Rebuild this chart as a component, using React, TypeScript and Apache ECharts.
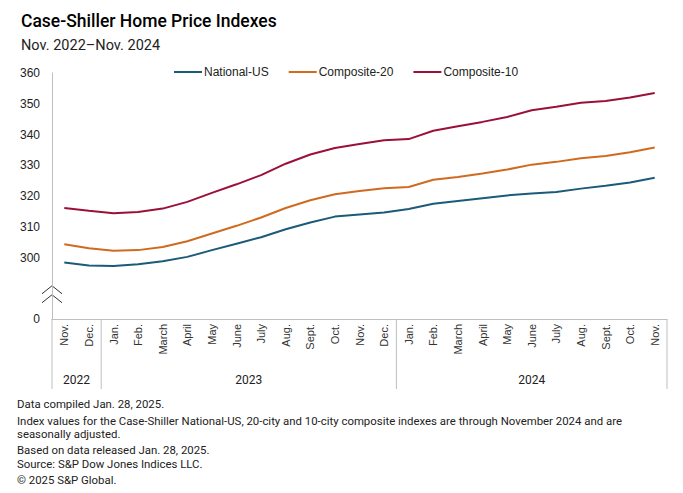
import React, { useEffect, useRef } from "react";
import * as echarts from "echarts";

const months = [
  "Nov.", "Dec.",
  "Jan.", "Feb.", "March", "April", "May", "June", "July", "Aug.", "Sept.", "Oct.", "Nov.", "Dec.",
  "Jan.", "Feb.", "March", "April", "May", "June", "July", "Aug.", "Sept.", "Oct.", "Nov.",
];
const years = ["2022", "2023", "2024"];
const yearStarts = [0, 2, 14];

const nationalUS = [
  298.4, 297.4, 297.2, 297.8, 298.8, 300.2, 302.4, 304.5, 306.6, 309.2, 311.4, 313.3, 314.0,
  314.6, 315.8, 317.5, 318.4, 319.3, 320.2, 320.8, 321.3, 322.4, 323.3, 324.4, 325.9,
];
const composite20 = [
  304.3, 303.0, 302.2, 302.4, 303.4, 305.3, 307.8, 310.3, 313.0, 316.1, 318.6, 320.6, 321.6,
  322.5, 322.9, 325.3, 326.2, 327.3, 328.6, 330.2, 331.1, 332.3, 333.0, 334.2, 335.8,
];
const composite10 = [
  316.1, 315.2, 314.4, 314.8, 315.9, 318.1, 321.0, 323.8, 326.8, 330.5, 333.5, 335.6, 336.9,
  338.1, 338.5, 341.2, 342.7, 344.1, 345.7, 347.9, 349.0, 350.3, 350.9, 352.0, 353.5,
];

const footnotes = [
  { text: "Data compiled Jan. 28, 2025.", y: 404 },
  {
    text: "Index values for the Case-Shiller National-US, 20-city and 10-city composite indexes are through November 2024 and are",
    y: 421,
  },
  { text: "seasonally adjusted.", y: 434 },
  { text: "Based on data released Jan. 28, 2025.", y: 450 },
  { text: "Source: S&P Dow Jones Indices LLC.", y: 464 },
  { text: "\u00a9 2025 S&P Global.", y: 480 },
];

const FONT = "Roboto, 'Liberation Sans', sans-serif";
const AXFONT = "'Liberation Sans', Arial, sans-serif";

export default function App() {
  const ref = useRef<HTMLDivElement>(null);
  useEffect(() => {
    if (!ref.current) return;
    const chart = echarts.init(ref.current, null, { renderer: "svg" });
    const mkSeries = (name: string, data: number[], color: string) => ({
      name,
      type: "line",
      data,
      symbol: "none",
      smooth: false,
      lineStyle: { color, width: 2 },
      itemStyle: { color },
    });
    chart.setOption({
      animation: false,
      backgroundColor: "#ffffff",
      title: [
        {
          text: "Case-Shiller Home Price Indexes",
          left: 16,
          top: 7,
          textStyle: { fontFamily: FONT, fontSize: 17.5, fontWeight: 500, color: "#000" },
        },
        {
          text: "Nov. 2022\u2013Nov. 2024",
          left: 16,
          top: 33,
          textStyle: { fontFamily: FONT, fontSize: 14.5, fontWeight: 400, color: "#222" },
        },
      ],
      legend: {
        left: 169,
        top: 61,
        itemGap: 20,
        itemWidth: 28,
        itemHeight: 2,
        icon: "rect",
        textStyle: { fontFamily: AXFONT, fontSize: 12, color: "#222", padding: [0, 0, 0, -3] },
        data: ["National-US", "Composite-20", "Composite-10"],
      },
      grid: { left: 52, right: 16, top: 73, bottom: 174, containLabel: false },
      xAxis: {
        type: "category",
        data: months,
        boundaryGap: true,
        axisLine: { lineStyle: { color: "#bfbfbf", width: 1 } },
        axisTick: { show: false },
        axisLabel: {
          rotate: 90,
          interval: 0,
          margin: 5,
          fontFamily: AXFONT,
          fontSize: 11,
          color: "#333",
        },
      },
      yAxis: {
        type: "value",
        min: 280,
        max: 360,
        interval: 10,
        axisLine: { show: true, lineStyle: { color: "#bfbfbf", width: 1 } },
        axisTick: { show: false },
        splitLine: { show: false },
        axisLabel: {
          margin: 12,
          fontFamily: AXFONT,
          fontSize: 12,
          color: "#222",
          formatter: (v: number) => (v === 280 ? "0" : v === 290 ? "" : String(v)),
        },
      },
      series: [
        mkSeries("National-US", nationalUS, "#1b5a78"),
        mkSeries("Composite-20", composite20, "#cf6a1e"),
        mkSeries("Composite-10", composite10, "#9b1039"),
      ],
    });

    // decorations derived from the axis scale
    const x0 = chart.convertToPixel({ xAxisIndex: 0 }, 0) as number;
    const x1 = chart.convertToPixel({ xAxisIndex: 0 }, 1) as number;
    const band = x1 - x0;
    const edge = (i: number) => x0 - band / 2 + band * i;
    const yBase = chart.convertToPixel({ yAxisIndex: 0 }, 280) as number;
    const yBreak = chart.convertToPixel({ yAxisIndex: 0 }, 290) as number;
    const boundaries = [...yearStarts, months.length];
    const graphics: any[] = [];
    boundaries.forEach((b) => {
      graphics.push({
        type: "line",
        shape: { x1: edge(b), y1: yBase, x2: edge(b), y2: yBase + 70 },
        style: { stroke: "#bfbfbf", lineWidth: 1 },
      });
    });
    years.forEach((yr, k) => {
      const cx = (edge(boundaries[k]) + edge(boundaries[k + 1])) / 2;
      graphics.push({
        type: "text",
        x: cx,
        y: yBase + 61,
        style: {
          text: yr,
          fontFamily: FONT,
          fontSize: 12,
          fill: "#222",
          align: "center",
          verticalAlign: "middle",
        },
      });
    });
    const ax = edge(0);
    const a1 = yBreak - 2.5;
    const a2 = yBreak + 6.5;
    graphics.push({
      type: "polygon",
      shape: {
        points: [
          [ax - 10, a1 + 8],
          [ax, a1],
          [ax + 10, a1 + 8],
          [ax + 10, a2 + 8],
          [ax, a2],
          [ax - 10, a2 + 8],
        ],
      },
      style: { fill: "#fff", stroke: "none" },
    });
    graphics.push({
      type: "polyline",
      shape: { points: [[ax - 10, a1 + 8], [ax, a1], [ax + 10, a1 + 8]] },
      style: { stroke: "#333", lineWidth: 1, fill: "none" },
    });
    graphics.push({
      type: "polyline",
      shape: { points: [[ax - 10, a2 + 8], [ax, a2], [ax + 10, a2 + 8]] },
      style: { stroke: "#333", lineWidth: 1, fill: "none" },
    });
    footnotes.forEach((f) => {
      graphics.push({
        type: "text",
        x: 17,
        y: f.y,
        style: {
          text: f.text,
          fontFamily: FONT,
          fontSize: 11.4,
          fill: "#222",
          verticalAlign: "middle",
        },
      });
    });
    chart.setOption({ graphic: graphics });

    return () => chart.dispose();
  }, []);
  return <div ref={ref} style={{ width: 683, height: 493, margin: -8 }} />;
}
